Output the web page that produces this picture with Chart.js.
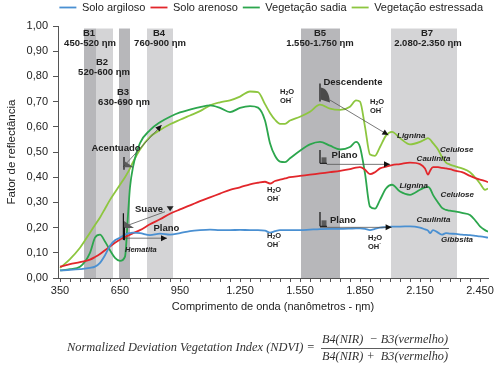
<!DOCTYPE html>
<html><head><meta charset="utf-8">
<script src="https://cdn.jsdelivr.net/npm/chart.js@4.4.1/dist/chart.umd.min.js"></script>
<style>html,body{margin:0;padding:0;background:#fff}</style>
</head><body>
<canvas id="c" width="498" height="366"></canvas>
<script>
// ---- data ----
const wavelengths = [350,400,450,500,525,550,575,600,625,650,675,690,700,715,750,800,850,900,950,1000,1050,1100,1150,1200,1250,1300,1340,1375,1400,1425,1450,1475,1500,1550,1600,1650,1700,1750,1800,1830,1850,1875,1900,1925,1950,1980,2010,2050,2100,2150,2175,2190,2200,2215,2240,2260,2280,2300,2330,2360,2400,2430,2450,2475,2490];
const soloArgiloso = [0.030,0.032,0.035,0.040,0.045,0.060,0.090,0.128,0.150,0.160,0.172,0.177,0.178,0.180,0.178,0.170,0.176,0.172,0.178,0.186,0.190,0.192,0.190,0.190,0.191,0.190,0.190,0.188,0.180,0.186,0.190,0.190,0.190,0.190,0.192,0.194,0.195,0.195,0.196,0.197,0.197,0.195,0.190,0.195,0.200,0.202,0.204,0.204,0.205,0.200,0.193,0.188,0.178,0.190,0.180,0.172,0.178,0.176,0.175,0.172,0.170,0.167,0.165,0.162,0.160];
const soloArenoso = [0.045,0.055,0.063,0.073,0.083,0.095,0.110,0.125,0.140,0.153,0.163,0.168,0.172,0.178,0.190,0.213,0.233,0.255,0.272,0.288,0.305,0.320,0.335,0.350,0.360,0.372,0.378,0.382,0.375,0.385,0.390,0.395,0.400,0.405,0.410,0.415,0.420,0.425,0.432,0.438,0.440,0.430,0.412,0.420,0.435,0.442,0.448,0.452,0.458,0.452,0.435,0.410,0.425,0.440,0.440,0.437,0.435,0.432,0.425,0.420,0.405,0.395,0.390,0.385,0.380];
const vegetacaoSadia = [0.030,0.035,0.045,0.100,0.160,0.172,0.145,0.110,0.080,0.068,0.085,0.250,0.360,0.440,0.535,0.587,0.618,0.640,0.657,0.668,0.678,0.685,0.675,0.658,0.675,0.682,0.676,0.625,0.535,0.485,0.462,0.460,0.475,0.505,0.530,0.540,0.525,0.510,0.520,0.540,0.520,0.415,0.283,0.275,0.310,0.355,0.370,0.343,0.330,0.350,0.360,0.362,0.355,0.330,0.300,0.278,0.270,0.267,0.263,0.258,0.250,0.225,0.205,0.190,0.184];
const vegetacaoEstressada = [0.040,0.075,0.120,0.180,0.210,0.240,0.275,0.310,0.340,0.370,0.400,0.420,0.435,0.460,0.510,0.560,0.587,0.610,0.628,0.645,0.662,0.685,0.697,0.705,0.720,0.740,0.738,0.690,0.655,0.628,0.612,0.612,0.625,0.640,0.660,0.688,0.672,0.667,0.680,0.705,0.700,0.600,0.490,0.485,0.520,0.565,0.580,0.555,0.530,0.540,0.550,0.555,0.550,0.535,0.510,0.480,0.458,0.450,0.442,0.435,0.420,0.395,0.375,0.350,0.355];
const seriesNames = ['Solo argiloso','Solo arenoso','Vegetação sadia','Vegetação estressada'];
const seriesColors = ['#4a90d2','#e2262b','#2ca64d','#8dc63f'];
const xTickValues = [350,400,450,500,550,600,650,700,750,800,850,900,950,1000,1050,1100,1150,1200,1250,1300,1350,1400,1450,1500,1550,1600,1650,1700,1750,1800,1850,1900,1950,2000,2050,2100,2150,2200,2250,2300,2350,2400,2450];
const xTickLabels = ['350','650','950','1.250','1.550','1.850','2.150','2.450'];
const bandNames = ['B1','B2','B3','B4','B5','B7'];
const bandRanges = ['450-520 ηm','520-600 ηm','630-690 ηm','760-900 ηm','1.550-1.750 ηm','2.080-2.350 ηm'];
const bandStart = [470,530,645,785,1555,2005];
const bandEnd = [530,615,700,915,1750,2335];
const bandTone = ['dark','light','dark','light','dark','light'];

// annotation layout (data units: nm, reflectance)
const bandLabelPos = [[495,0.972,500,0.933],[560,0.857,570,0.817],[665,0.738,670,0.698],[845,0.972,850,0.933],[1650,0.972,1650,0.933],[2185,0.972,2190,0.933]];

const F = '"Liberation Sans", Arial, sans-serif';
const mk = (arr) => wavelengths.map((w,i)=>({x:w,y:arr[i]}));
const allSeries = [soloArgiloso, soloArenoso, vegetacaoSadia, vegetacaoEstressada];

const bandsPlugin = {
  id:'bands',
  afterLayout(chart){ if(chart.legend){ chart.legend.top -= 3; chart.legend.bottom -= 3; } },
  beforeDatasetsDraw(chart){
    const {ctx, scales:{x,y}} = chart;
    ctx.save();
    for(let i=0;i<bandNames.length;i++){
      const x0=x.getPixelForValue(bandStart[i]), x1=x.getPixelForValue(bandEnd[i]);
      const y0=y.getPixelForValue(0.99), y1=y.getPixelForValue(0);
      ctx.fillStyle = bandTone[i]==='dark' ? '#b7b7ba' : '#d4d4d6';
      ctx.fillRect(x0,y0,x1-x0,y1-y0);
    }
    ctx.restore();
  }
};

function annot(chart){
  const {ctx, scales:{x,y}} = chart;
  const P = (nm,v)=>[x.getPixelForValue(nm), y.getPixelForValue(v)];
  const txt=(s,nm,v,font,align='center',color='#222')=>{
    const [px,py]=P(nm,v); ctx.font=font; ctx.fillStyle=color; ctx.textAlign=align; ctx.textBaseline='middle'; ctx.fillText(s,px,py);
  };
  const B = 'bold 9.5px '+F, BI = 'italic bold 8px '+F;
  for(let i=0;i<bandNames.length;i++){
    const p=bandLabelPos[i];
    txt(bandNames[i],p[0],p[1],B);
    txt(bandRanges[i],p[2],p[3],B);
  }
  const water=(nm,v)=>{
    const [px,py]=P(nm,v);
    ctx.fillStyle='#222'; ctx.textBaseline='middle';
    ctx.font='bold 7.5px '+F;
    const wH=ctx.measureText('H').width, wO=ctx.measureText('O').width;
    ctx.font='bold 5px '+F; const w2=ctx.measureText('2').width;
    let sx=px-(wH+w2+wO)/2;
    ctx.textAlign='left';
    ctx.font='bold 7.5px '+F; ctx.fillText('H',sx,py);
    ctx.font='bold 5px '+F; ctx.fillText('2',sx+wH,py+2);
    ctx.font='bold 7.5px '+F; ctx.fillText('O',sx+wH+w2,py);
    const wOH=ctx.measureText('OH').width;
    sx=px-(wOH+3)/2;
    ctx.fillText('OH',sx,py+9);
    ctx.font='bold 5px '+F; ctx.fillText('-',sx+wOH,py+6);
  };
  water(1485,0.738); water(1935,0.698); water(1420,0.349); water(1420,0.167); water(1925,0.159);
  txt('Lignina',2035,0.563,BI,'left');
  txt('Celulose',2250,0.51,BI,'left');
  txt('Caulinita',2133,0.472,BI,'left');
  txt('Lignina',2047,0.365,BI,'left');
  txt('Celulose',2253,0.329,BI,'left');
  txt('Caulinita',2133,0.23,BI,'left');
  txt('Gibbsita',2255,0.151,BI,'left');
  txt('Hematita',675,0.111,'italic bold 7.5px '+F,'left');
  txt('Acentuado',630,0.516,B);
  txt('Suave',725,0.273,B,'left');
  txt('Plano',817,0.197,B,'left');
  txt('Descendente',1815,0.778,B);
  txt('Plano',1708,0.488,B,'left');
  txt('Plano',1700,0.227,B,'left');
  ctx.font=B; const [sx0,sy0]=P(725,0.273); const sw=ctx.measureText('Suave ').width;
  ctx.fillStyle='#222'; ctx.beginPath(); ctx.moveTo(sx0+sw+1,sy0-3); ctx.lineTo(sx0+sw+8,sy0-3); ctx.lineTo(sx0+sw+4.5,sy0+2); ctx.closePath(); ctx.fill();

  const arrow=(a,b,c,d,head=true)=>{
    const [x0,y0]=P(a,b),[x1,y1]=P(c,d);
    ctx.strokeStyle='#555'; ctx.lineWidth=0.8; ctx.beginPath(); ctx.moveTo(x0,y0); ctx.lineTo(x1,y1); ctx.stroke();
    if(head){
      const ang=Math.atan2(y1-y0,x1-x0), L=6, W=3;
      ctx.fillStyle='#111'; ctx.beginPath();
      ctx.moveTo(x1,y1);
      ctx.lineTo(x1-L*Math.cos(ang)+W*Math.sin(ang), y1-L*Math.sin(ang)-W*Math.cos(ang));
      ctx.lineTo(x1-L*Math.cos(ang)-W*Math.sin(ang), y1-L*Math.sin(ang)+W*Math.cos(ang));
      ctx.closePath(); ctx.fill();
    }
  };
  arrow(667,0.442,858,0.607);
  arrow(692,0.21,875,0.263,false);
  arrow(675,0.158,885,0.158);
  arrow(1700,0.706,1992,0.567);
  arrow(1683,0.451,2000,0.451);
  arrow(1650,0.201,2008,0.201);

  const vline=(nm,v0,v1)=>{const [px,p0]=P(nm,v0),[,p1]=P(nm,v1); ctx.strokeStyle='#111'; ctx.lineWidth=1.2; ctx.beginPath(); ctx.moveTo(px,p0); ctx.lineTo(px,p1); ctx.stroke(); return [px,p0,p1];};
  const tri=(px,py,w,h)=>{ctx.fillStyle='#5a5a5a'; ctx.beginPath(); ctx.moveTo(px,py-h/2); ctx.lineTo(px+w,py+h/2); ctx.lineTo(px,py+h/2); ctx.closePath(); ctx.fill();};
  let r;
  r=vline(670,0.48,0.43); tri(r[0]+0.6,(r[1]+r[2])/2+1,9,6);
  r=vline(667,0.257,0.151); tri(r[0]+0.6,(r[1]+r[2])/2-2,10,7);
  r=vline(672,0.20,0.15);
  const plano=(nm,v0,v1)=>{const q=vline(nm,v0,v1); ctx.fillStyle='#5a5a5a'; ctx.fillRect(q[0]+1.5,q[2]-6,5,6); ctx.strokeStyle='#111'; ctx.lineWidth=1; ctx.beginPath(); ctx.moveTo(q[0],q[2]); ctx.lineTo(q[0]+7,q[2]); ctx.stroke();};
  plano(1650,0.508,0.455);
  plano(1650,0.262,0.205);
  r=vline(1650,0.772,0.70);
  ctx.fillStyle='#4a4a4a'; ctx.beginPath(); ctx.moveTo(r[0]+0.6,r[1]+4); ctx.quadraticCurveTo(r[0]+9,r[1]+5,r[0]+10,r[2]+1); ctx.lineTo(r[0]+0.6,r[2]-2); ctx.closePath(); ctx.fill();
}

const annotPlugin = { id:'annot', afterDatasetsDraw(chart){ chart.ctx.save(); annot(chart); chart.ctx.restore(); } };

const formulaPlugin = {
  id:'formula',
  afterDraw(chart){
    const ctx=chart.ctx; ctx.save();
    const S='"Liberation Serif","DejaVu Serif",serif';
    const lead='Normalized Deviation Vegetation Index (NDVI) =';
    ctx.fillStyle='#333'; ctx.textBaseline='middle';
    ctx.font='italic 12px '+S;
    const k=248/ctx.measureText(lead).width;
    ctx.font='italic '+(12*k).toFixed(2)+'px '+S;
    ctx.textAlign='left'; ctx.fillText(lead,67,348);
    const num='B4(NIR)  − B3(vermelho)', den='B4(NIR) +  B3(vermelho)';
    ctx.font='italic 12px '+S;
    const k2=126/ctx.measureText(num).width;
    ctx.font='italic '+(12*k2).toFixed(2)+'px '+S;
    ctx.textAlign='center'; ctx.fillText(num,385,340); ctx.fillText(den,385,357);
    ctx.strokeStyle='#333'; ctx.lineWidth=0.8; ctx.beginPath(); ctx.moveTo(321,348.5); ctx.lineTo(449,348.5); ctx.stroke();
    ctx.restore();
  }
};

new Chart(document.getElementById('c'), {
  type:'line',
  data:{ datasets: allSeries.map((s,i)=>({label:seriesNames[i], data:mk(s), borderColor:seriesColors[i], backgroundColor:seriesColors[i], borderWidth:1.8, pointRadius:0, tension:0.4, cubicInterpolationMode:'monotone', pointStyle:'line'})) },
  options:{
    responsive:false, devicePixelRatio:1, animation:false,
    layout:{padding:{left:0,right:10,top:0,bottom:48}},
    plugins:{
      legend:{position:'top', align:'end', labels:{font:{family:F,size:11}, color:'#222', usePointStyle:true, pointStyle:'line', pointStyleWidth:17, boxWidth:17, padding:5}},
      tooltip:{enabled:false}
    },
    scales:{
      x:{type:'linear', min:340, max:2490,
        afterBuildTicks:(s)=>{s.ticks=xTickValues.map(v=>({value:v}));},
        afterFit:(s)=>{s.height=40;},
        ticks:{autoSkip:false, maxRotation:0, padding:2, font:{family:F,size:11}, color:'#222',
          callback:(v)=>((v-350)%300===0 ? xTickLabels[(v-350)/300] : '')},
        grid:{drawOnChartArea:false, color:'#555', tickLength:4},
        border:{color:'#555'},
        title:{display:true, text:'Comprimento de onda (nanômetros - ηm)', font:{family:F,size:11}, color:'#222', padding:{top:2,bottom:4}}
      },
      y:{min:0, max:1,
        afterFit:(s)=>{s.width=58;},
        ticks:{stepSize:0.1, padding:5, font:{family:F,size:11}, color:'#222', callback:(v)=>v.toFixed(2).replace('.',',')},
        grid:{drawOnChartArea:false, color:'#555', tickLength:5},
        border:{color:'#555'},
        title:{display:true, text:'Fator de reflectância', font:{family:F,size:11.5}, color:'#222', padding:{top:5,bottom:0}}
      }
    }
  },
  plugins:[bandsPlugin, annotPlugin, formulaPlugin]
});
</script>
</body></html>
